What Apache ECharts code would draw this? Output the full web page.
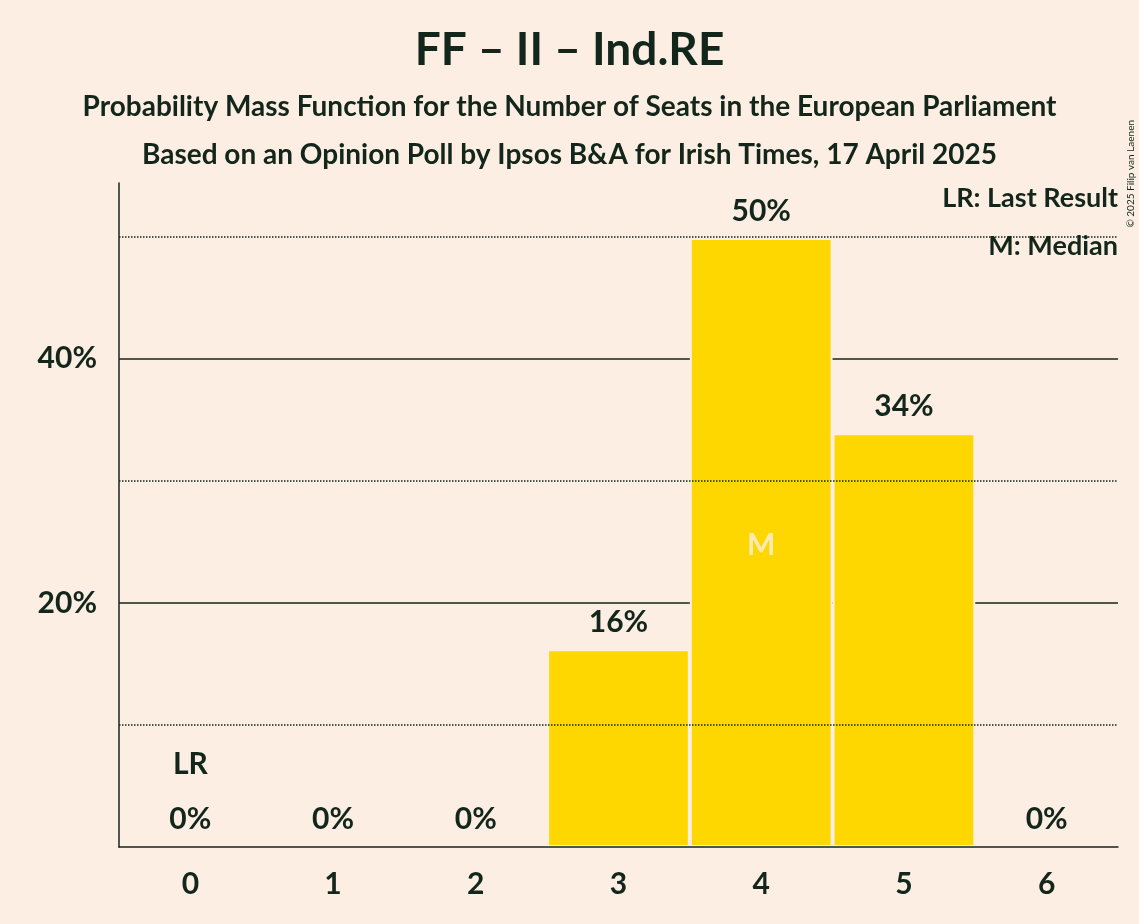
<!DOCTYPE html>
<html><head><meta charset="utf-8">
<script src="https://cdn.jsdelivr.net/npm/echarts@6/dist/echarts.min.js"></script>
<style>html,body{margin:0;background:#FDEEE4}#c{width:1139px;height:924px}</style>
</head><body><div id="c"></div>
<script>
const seats = ["0", "1", "2", "3", "4", "5", "6"];
const probs = [0, 0, 0, 16.2, 49.9, 33.9, 0];
const lastResult = "0";
const median = "4";

const ink = "#13261b";
const font = "Lato, 'Open Sans', sans-serif";
const chart = echarts.init(document.getElementById("c"));

chart.setOption({
  backgroundColor: "#FDEEE4",
  textStyle: { fontFamily: font, color: ink },
  title: [
    { text: "FF – II – Ind.RE", left: "center", top: 22,
      textStyle: { fontSize: 46, fontWeight: "bold", color: ink, fontFamily: font } },
    { text: "Probability Mass Function for the Number of Seats in the European Parliament", left: "center", top: 88,
      textStyle: { fontSize: 28, fontWeight: "bold", color: ink, fontFamily: font } },
    { text: "Based on an Opinion Poll by Ipsos B&A for Irish Times, 17 April 2025", left: "center", top: 136,
      textStyle: { fontSize: 28, fontWeight: "bold", color: ink, fontFamily: font } }
  ],
  graphic: [
    { type: "text", right: 21, top: 185, style: { text: "LR: Last Result", font: "bold 27px " + font, fill: ink, textAlign: "right" } },
    { type: "text", right: 21, top: 233, style: { text: "M: Median", font: "bold 27px " + font, fill: ink, textAlign: "right" } },
    { type: "text", left: 1126, top: 120, rotation: Math.PI / 2,
      style: { text: "© 2025 Filip van Laenen", font: "10px " + font, fill: ink } }
  ],
  grid: { left: 119, right: 21, top: 183, bottom: 77 },
  xAxis: {
    type: "category", data: seats, z: 10,
    axisTick: { show: false },
    axisLine: { lineStyle: { color: ink, width: 1.5 } },
    axisLabel: { fontSize: 30, fontWeight: "bold", color: ink, margin: 22 }
  },
  yAxis: [
    { type: "value", min: 0, max: 54.4, interval: 10, z: 10,
      axisLine: { show: true, lineStyle: { color: ink, width: 1.5 } },
      axisTick: { show: false },
      axisLabel: { fontSize: 30, fontWeight: "bold", color: ink, margin: 22,
        formatter: v => (v === 20 || v === 40) ? v + "%" : "" },
      splitLine: { show: true, lineStyle: { type: "dotted", width: 1.5, color: ["rgba(0,0,0,0)", ink] } } },
    { type: "value", min: 0, max: 54.4, interval: 20, show: true, position: "left",
      axisLine: { show: false }, axisTick: { show: false }, axisLabel: { show: false },
      splitLine: { show: true, lineStyle: { type: "solid", width: 1.5, color: ["rgba(0,0,0,0)", ink, ink] } } }
  ],
  series: [
    {
      type: "bar", data: probs, barCategoryGap: "0%",
      itemStyle: { color: "#FFD700", borderColor: "#FDEEE4", borderWidth: 2 },
      label: {
        show: true, position: "top", distance: 12, color: ink, fontSize: 30, fontWeight: "bold", fontFamily: font,
        formatter: p => {
          const t = Math.round(p.value) + "%";
          return seats[p.dataIndex] === lastResult ? "{lr|LR}\n" + t : t;
        },
        rich: { lr: { fontSize: 30, fontWeight: "bold", color: ink, lineHeight: 80, fontFamily: font } }
      },
      silent: true, animation: false
    },
    {
      type: "scatter", symbolSize: 0,
      data: seats.map(s => s === median ? 24.7 : null),
      label: { show: true, position: "inside", formatter: "M", color: "#FDEEE4", fontSize: 30, fontWeight: "bold", fontFamily: font },
      silent: true, animation: false
    }
  ]
});
</script></body></html>
